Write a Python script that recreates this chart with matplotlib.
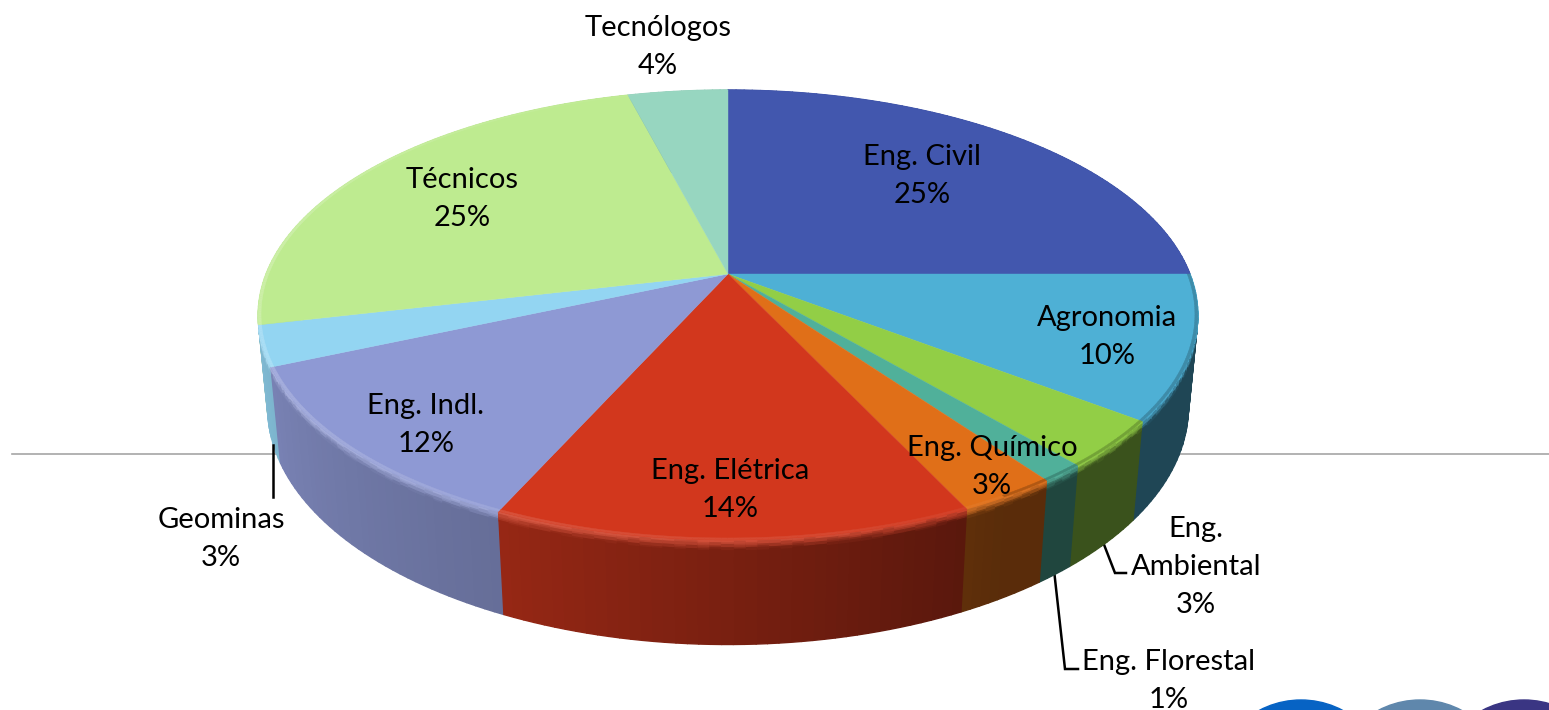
import numpy as np
import matplotlib
matplotlib.use('Agg')
import matplotlib.pyplot as plt
from matplotlib.collections import PolyCollection
from matplotlib.colors import to_rgb
from matplotlib.patches import Circle

plt.rcParams['font.family'] = ['Lato', 'DejaVu Sans']

categories = ['Eng. Civil', 'Agronomia', 'Eng.\nAmbiental', 'Eng. Florestal', 'Eng. Químico',
              'Eng. Elétrica', 'Eng. Indl.', 'Geominas', 'Técnicos', 'Tecnólogos']
# the shares behind the rounded labels, estimated from the slice edges
values = [25.0, 10.3, 3.4, 1.3, 2.9, 13.9, 11.7, 2.9, 24.5, 4.1]
percent_labels = ['25%', '10%', '3%', '1%', '3%', '14%', '12%', '3%', '25%', '4%']
colors = ['#4257AE', '#4EB0D5', '#92CE46', '#50B09A', '#E06F18',
          '#D2371D', '#8E99D4', '#93D5F2', '#BEEB90', '#97D6C0']

label_pos = [(922, 176), (1107, 337), (1196, 567), (1169, 681), (992, 467),
             (730, 490), (426, 425), (221, 539), (462, 199), (658, 47)]

# perspective of the disc: unit circle on to the screen, in pixels
CX, CY = 728, 274
A, B, P = 462, 217.5, 0.182
DEPTH_Y, DEPTH_W = 93, 0.02


def project(theta, r=1.0, z=0.0):
    u = r * np.sin(theta)
    v = r * np.cos(theta)
    w = 1 + P * v + DEPTH_W * z
    return CX + A * u / w, CY + (-B * v + DEPTH_Y * z) / w


def wall_shade(deg):
    return np.interp(deg % 360, [0, 100, 150, 205, 270, 300, 360],
                     [0.4, 0.4, 0.4, 0.72, 0.92, 0.9, 0.4])


def rim_light(deg):
    return np.interp(deg % 360, [0, 130, 170, 205, 250, 280, 360],
                     [0, 0, 0.12, 0.18, 0.3, 0.3, 0])


def mix(c, other, t):
    return tuple(np.array(c) * (1 - t) + np.array(other) * t)


fig = plt.figure(figsize=(15.49, 7.10), dpi=100)
ax = fig.add_axes([0, 0, 1, 1])
ax.set_xlim(0, 1549)
ax.set_ylim(710, 0)
ax.axis('off')

# background rule and the cut off logos at the bottom
ax.plot([12, 1549], [454, 454], color='#a6a6a6', lw=1.2, zorder=1)
ax.add_patch(Circle((1301, 789), 89, color='#0763C4', zorder=1))
ax.add_patch(Circle((1420, 789), 89, color='#5F87AC', zorder=1))
ax.add_patch(Circle((1524, 789), 89, color='#3A3583', zorder=1))

# leader lines behind the pie
ax.plot([1103, 1115, 1126], [542, 573, 573], color='black', lw=1.8, zorder=2,
        solid_joinstyle='miter')
ax.plot([1054, 1065, 1078], [570, 669, 669], color='black', lw=1.8, zorder=2,
        solid_joinstyle='miter')

edges = np.cumsum([0] + values) / sum(values) * 360

# side wall, thin strips from the back to the front
polys, cols = [], []
z_levels = [0, 0.015, 0.03, 0.045, 0.06, 0.075, 0.09, 1.0]
for i, col in enumerate(colors):
    base = to_rgb(col)
    steps = np.linspace(edges[i], edges[i + 1], int(values[i] * 3) + 2)
    for d0, d1 in zip(steps[:-1], steps[1:]):
        t0, t1 = np.radians(d0), np.radians(d1)
        mid = (d0 + d1) / 2
        wall = mix(base, (0, 0, 0), 1 - wall_shade(mid))
        top = mix(base, (1, 1, 1), rim_light(mid))
        for k in range(len(z_levels) - 1):
            z0, z1 = z_levels[k], z_levels[k + 1]
            x0, y0 = project(t0, z=z0)
            x1, y1 = project(t1, z=z0)
            x2, y2 = project(t1, z=z1)
            x3, y3 = project(t0, z=z1)
            polys.append([(x0, y0), (x1, y1), (x2, y2), (x3, y3)])
            cols.append((np.cos(np.radians(mid)), mix(top, wall, min(1, (k + 0.5) / 6))))
order = np.argsort([-c[0] for c in cols])
ax.add_collection(PolyCollection([polys[j] for j in order],
                                 facecolors=[cols[j][1] for j in order],
                                 edgecolors=[cols[j][1] for j in order],
                                 linewidths=1.0, zorder=3))

# top face
for i, col in enumerate(colors):
    base = to_rgb(col)
    th = np.radians(np.linspace(edges[i], edges[i + 1], int(values[i] * 6) + 2))
    x, y = project(th)
    ax.fill(np.r_[CX, x], np.r_[CY, y], color=col, lw=0.3, zorder=4)
    # soft rim of the bevel, light on the left and front, dark on the right
    for d0, d1 in zip(th[:-1], th[1:]):
        mid = np.degrees((d0 + d1) / 2)
        rim = mix(base, (1, 1, 1), rim_light(mid))
        if 90 < mid < 150:
            rim = mix(base, (0, 0, 0), 0.3)
        xa, ya = project(np.array([d0, d1, d1, d0]), r=np.array([1.0, 1.0, 0.994, 0.994]))
        ax.fill(xa, ya, color=mix(base, rim, 0.7), lw=0.3, zorder=5)

ax.plot([273, 273], [445, 497], color='black', lw=1.8, zorder=6)

for name, pct, (x, y) in zip(categories, percent_labels, label_pos):
    ax.text(x, y, name + '\n' + pct, ha='center', va='center', fontsize=21,
            color='black', linespacing=1.56, zorder=7)

fig.savefig('out.png', dpi=100)
